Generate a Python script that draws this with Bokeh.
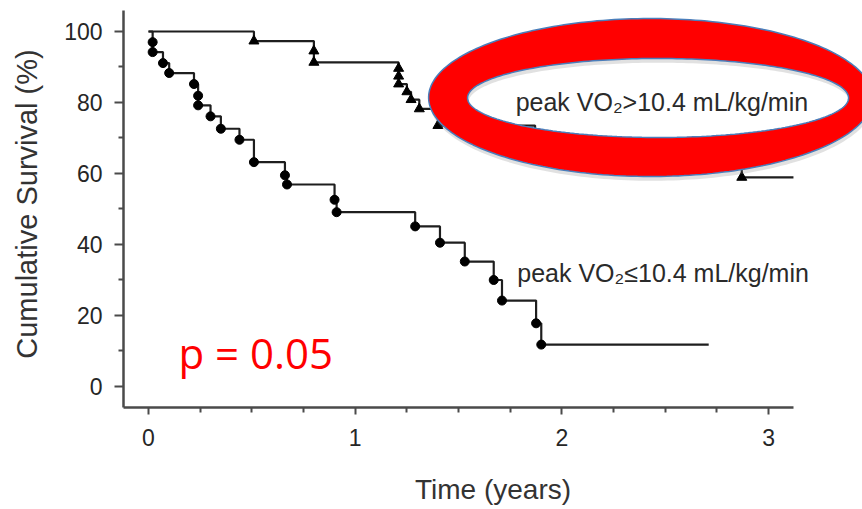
import numpy as np
from bokeh.plotting import figure
from bokeh.models import Range1d, FixedTicker
from bokeh.core.properties import value
from bokeh.embed import file_html
from bokeh.resources import INLINE

# ---------------- data ----------------
x_major = [0, 1, 2, 3]
x_minor = [0.25, 0.5, 0.75, 1.25, 1.5, 1.75, 2.25, 2.5, 2.75]
y_major = [0, 20, 40, 60, 80, 100]
y_minor = [10, 30, 50, 70, 90]

# peak VO2 > 10.4 group (triangles)
hi_times = [0.51, 0.80, 0.80, 1.21, 1.21, 1.21, 1.25, 1.27, 1.31, 1.40, 1.87, 2.87]
hi_surv = [97.3, 94.5, 91.3, 89.6, 87.4, 85.2, 83.0, 80.8, 78.2, 73.5, 66.0, 58.9]
hi_end = 3.12

# peak VO2 <= 10.4 group (circles)
lo_times = [0.02, 0.02, 0.07, 0.10, 0.22, 0.24, 0.24, 0.30, 0.35, 0.44, 0.51,
            0.66, 0.67, 0.90, 0.91, 1.29, 1.41, 1.53, 1.67, 1.71, 1.875, 1.90]
lo_surv = [97.0, 94.2, 91.1, 88.3, 85.2, 81.9, 79.2, 76.1, 72.6, 69.5, 63.2,
           59.5, 56.9, 52.6, 49.1, 45.1, 40.5, 35.2, 30.0, 24.2, 17.8, 11.8]
lo_end = 2.71

start_surv = 100

label_hi = "peak VO\u2082>10.4 mL/kg/min"
label_lo = "peak VO\u2082\u226410.4 mL/kg/min"
p_text = "p = 0.05"

# ---------------- figure ----------------
p = figure(width=862, height=509, output_backend="svg", toolbar_location=None,
           title=None,
           x_range=Range1d(-0.121, 3.454), y_range=Range1d(-5.92, 108.73),
           min_border_left=123, min_border_right=0, min_border_top=0,
           min_border_bottom=102)
p.outline_line_color = None
p.xgrid.visible = False
p.ygrid.visible = False
p.background_fill_color = "white"
p.border_fill_color = "white"

ax_col = "#4a4a4a"
for ax in (p.xaxis[0], p.yaxis[0]):
    ax.axis_line_width = 2.5
    ax.axis_line_color = ax_col
    ax.major_tick_line_color = ax_col
    ax.major_tick_line_width = 2
    ax.minor_tick_line_color = ax_col
    ax.minor_tick_line_width = 2
    ax.major_tick_in = 0
    ax.minor_tick_in = 0
    ax.major_label_text_font = "Liberation Sans"
    ax.major_label_text_font_size = "23px"
    ax.major_label_text_color = "#262626"
    ax.axis_label_text_font = "Liberation Sans"
    ax.axis_label_text_font_size = "28px"
    ax.axis_label_text_font_style = "normal"
    ax.axis_label_text_color = "#333333"

p.xaxis.ticker = FixedTicker(ticks=x_major, minor_ticks=x_minor)
p.xaxis.bounds = (-0.121, 3.12)
p.xaxis.major_tick_out = 7
p.xaxis.minor_tick_out = 5
p.xaxis.major_label_standoff = 14
p.xaxis.axis_label = "Time (years)"
p.xaxis.axis_label_standoff = 25

p.yaxis.ticker = FixedTicker(ticks=y_major, minor_ticks=y_minor)
p.yaxis.bounds = (-5.92, 105.9)
p.yaxis.major_tick_out = 9
p.yaxis.minor_tick_out = 5
p.yaxis.major_label_standoff = 12
p.yaxis.axis_label = "Cumulative Survival (%)"
p.yaxis.axis_label_text_font_size = "29px"
p.yaxis.axis_label_standoff = 18

line_col = "#1e1e1e"

# step curves
hx = [0] + hi_times + [hi_end]
hy = [start_surv] + hi_surv + [hi_surv[-1]]
p.step(hx, hy, mode="after", line_color=line_col, line_width=2.2)
lx = [0] + lo_times + [lo_end]
ly = [start_surv] + lo_surv + [lo_surv[-1]]
p.step(lx, ly, mode="after", line_color=line_col, line_width=2.2)

p.scatter(hi_times, hi_surv, marker="triangle", size=10,
          fill_color="black", line_color="black")
p.scatter(lo_times, lo_surv, marker="circle", size=9,
          fill_color="black", line_color="black")

# ---------------- red ring annotation ----------------
t = np.linspace(0, 2 * np.pi, 240)
ocx, ocy, oa, ob = 2.429, 81.4, 1.074, 22.25
icx, icy, ia, ib = 2.465, 81.27, 0.9216, 11.13
ox = ocx + oa * np.cos(t)
oy = ocy + ob * np.sin(t)
ix = icx + ia * np.cos(t)
iy = icy + ib * np.sin(t)
# soft shadow
p.multi_polygons(xs=[[[ox + 0.005, ix + 0.005]]], ys=[[[oy - 1.2, iy - 1.2]]],
                 fill_color="#888888", fill_alpha=0.25, line_color=None)
p.multi_polygons(xs=[[[ox, ix]]], ys=[[[oy, iy]]],
                 fill_color="#ff0000", line_color="#4a7ebb", line_width=1.5)

# ---------------- texts ----------------
p.text(x=[1.776], y=[80.2], text=[label_hi], text_font=value("Liberation Sans"),
       text_font_size="25px", text_color="#2a2a2a", text_baseline="alphabetic",
       text_align="left")
p.text(x=[1.784], y=[32.0], text=[label_lo], text_font=value("Liberation Sans"),
       text_font_size="25px", text_color="#2a2a2a", text_baseline="alphabetic",
       text_align="left")
p.text(x=[0.145], y=[9.6], text=[p_text], text_font=value("Open Sans"),
       text_font_size="42px", text_color="#ff0000", text_baseline="alphabetic",
       text_align="left")

open("out.html", "w").write(file_html(p, INLINE))
